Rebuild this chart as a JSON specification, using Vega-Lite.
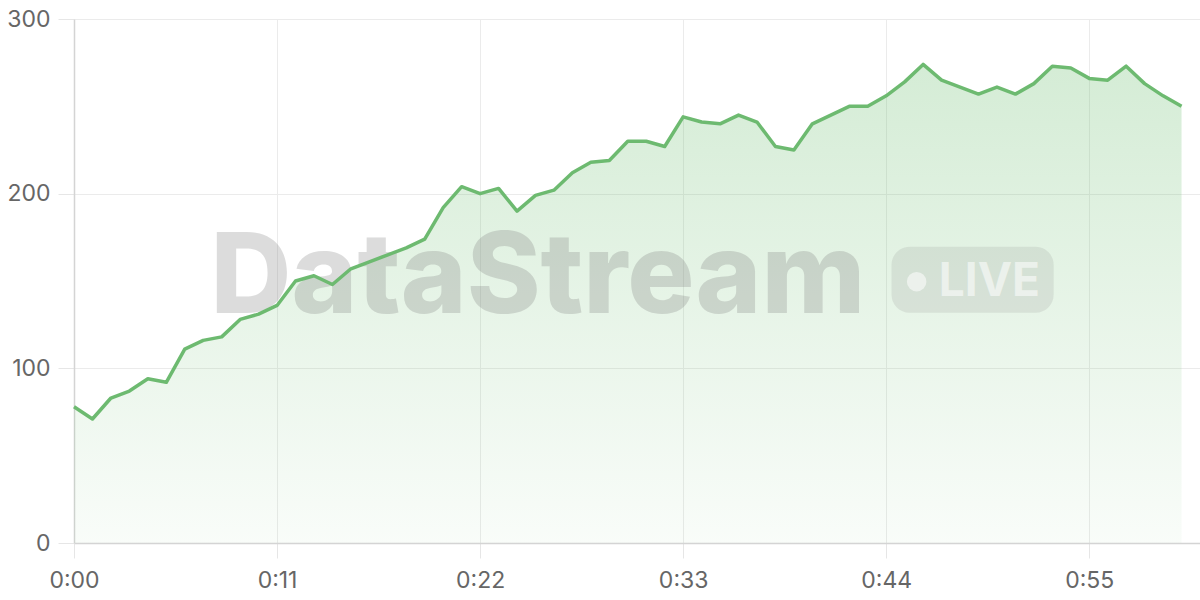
{
  "$schema": "https://vega.github.io/schema/vega-lite/v6.json",
  "description": "Live stream metric over one minute, area with DataStream watermark.",
  "width": 1126,
  "height": 524,
  "autosize": {"type": "none"},
  "padding": {"left": 74, "top": 19, "right": 0, "bottom": 57},
  "background": "#ffffff",
  "datasets": {
    "series": [
      {"t": 0, "value": 78}, {"t": 1, "value": 71}, {"t": 2, "value": 83}, {"t": 3, "value": 87},
      {"t": 4, "value": 94}, {"t": 5, "value": 92}, {"t": 6, "value": 111}, {"t": 7, "value": 116},
      {"t": 8, "value": 118}, {"t": 9, "value": 128}, {"t": 10, "value": 131}, {"t": 11, "value": 136},
      {"t": 12, "value": 150}, {"t": 13, "value": 153}, {"t": 14, "value": 148}, {"t": 15, "value": 157},
      {"t": 16, "value": 161}, {"t": 17, "value": 165}, {"t": 18, "value": 169}, {"t": 19, "value": 174},
      {"t": 20, "value": 192}, {"t": 21, "value": 204}, {"t": 22, "value": 200}, {"t": 23, "value": 203},
      {"t": 24, "value": 190}, {"t": 25, "value": 199}, {"t": 26, "value": 202}, {"t": 27, "value": 212},
      {"t": 28, "value": 218}, {"t": 29, "value": 219}, {"t": 30, "value": 230}, {"t": 31, "value": 230},
      {"t": 32, "value": 227}, {"t": 33, "value": 244}, {"t": 34, "value": 241}, {"t": 35, "value": 240},
      {"t": 36, "value": 245}, {"t": 37, "value": 241}, {"t": 38, "value": 227}, {"t": 39, "value": 225},
      {"t": 40, "value": 240}, {"t": 41, "value": 245}, {"t": 42, "value": 250}, {"t": 43, "value": 250},
      {"t": 44, "value": 256}, {"t": 45, "value": 264}, {"t": 46, "value": 274}, {"t": 47, "value": 265},
      {"t": 48, "value": 261}, {"t": 49, "value": 257}, {"t": 50, "value": 261}, {"t": 51, "value": 257},
      {"t": 52, "value": 263}, {"t": 53, "value": 273}, {"t": 54, "value": 272}, {"t": 55, "value": 266},
      {"t": 56, "value": 265}, {"t": 57, "value": 273}, {"t": 58, "value": 263}, {"t": 59, "value": 256},
      {"t": 60, "value": 250}
    ],
    "brand": [{"name": "DataStream", "badge": "LIVE"}]
  },
  "layer": [
    {
      "data": {"name": "series"},
      "mark": {
        "type": "area",
        "color": {
          "gradient": "linear",
          "x1": 0, "y1": 0, "x2": 0, "y2": 1,
          "stops": [
            {"offset": 0, "color": "rgba(102,187,106,0.28)"},
            {"offset": 1, "color": "rgba(102,187,106,0.04)"}
          ]
        }
      },
      "encoding": {
        "x": {
          "field": "t",
          "type": "quantitative",
          "scale": {"domain": [0, 61], "nice": false},
          "axis": {
            "values": [0, 11, 22, 33, 44, 55],
            "labelExpr": "floor(datum.value / 60) + ':' + (datum.value % 60 < 10 ? '0' : '') + (datum.value % 60)",
            "tickSize": 15,
            "labelPadding": 11,
            "labelFlush": false,
            "title": null
          }
        },
        "y": {
          "field": "value",
          "type": "quantitative",
          "scale": {"domain": [0, 300], "nice": false},
          "axis": {
            "values": [0, 100, 200, 300],
            "tickSize": 16,
            "labelPadding": 8,
            "title": null
          }
        }
      }
    },
    {
      "data": {"name": "brand"},
      "mark": {
        "type": "text",
        "font": "Inter",
        "fontWeight": 800,
        "fontSize": 112,
        "letterSpacing": -3,
        "align": "left",
        "baseline": "alphabetic",
        "color": "#808080",
        "opacity": 0.27
      },
      "encoding": {
        "x": {"datum": 7.4, "type": "quantitative"},
        "y": {"datum": 131.7, "type": "quantitative"},
        "text": {"field": "name"}
      }
    },
    {
      "data": {"name": "brand"},
      "mark": {"type": "rect", "color": "#808080", "opacity": 0.16, "cornerRadius": 18},
      "encoding": {
        "x": {"datum": 44.29, "type": "quantitative"},
        "x2": {"datum": 53.07},
        "y": {"datum": 169.6, "type": "quantitative"},
        "y2": {"datum": 131.8}
      }
    },
    {
      "data": {"name": "brand"},
      "mark": {"type": "point", "filled": true, "shape": "circle", "size": 380, "color": "#ffffff", "opacity": 0.55},
      "encoding": {
        "x": {"datum": 45.65, "type": "quantitative"},
        "y": {"datum": 149.6, "type": "quantitative"}
      }
    },
    {
      "data": {"name": "brand"},
      "mark": {
        "type": "text",
        "font": "Inter",
        "fontWeight": 700,
        "fontSize": 46,
        "align": "left",
        "baseline": "alphabetic",
        "color": "#ffffff",
        "opacity": 0.55
      },
      "encoding": {
        "x": {"datum": 46.85, "type": "quantitative"},
        "y": {"datum": 141.6, "type": "quantitative"},
        "text": {"field": "badge"}
      }
    },
    {
      "data": {"name": "series"},
      "mark": {"type": "line", "color": "#6dba70", "strokeWidth": 3.5, "strokeJoin": "round"},
      "encoding": {
        "x": {"field": "t", "type": "quantitative"},
        "y": {"field": "value", "type": "quantitative"}
      }
    }
  ],
  "config": {
    "view": {"stroke": null},
    "axis": {
      "grid": true,
      "gridColor": "#ebebeb",
      "gridWidth": 1,
      "domainColor": "#d4d4d4",
      "domainWidth": 1.5,
      "tickColor": "#e6e6e6",
      "labelFont": "Inter",
      "labelFontSize": 23,
      "labelColor": "#666666"
    }
  }
}
